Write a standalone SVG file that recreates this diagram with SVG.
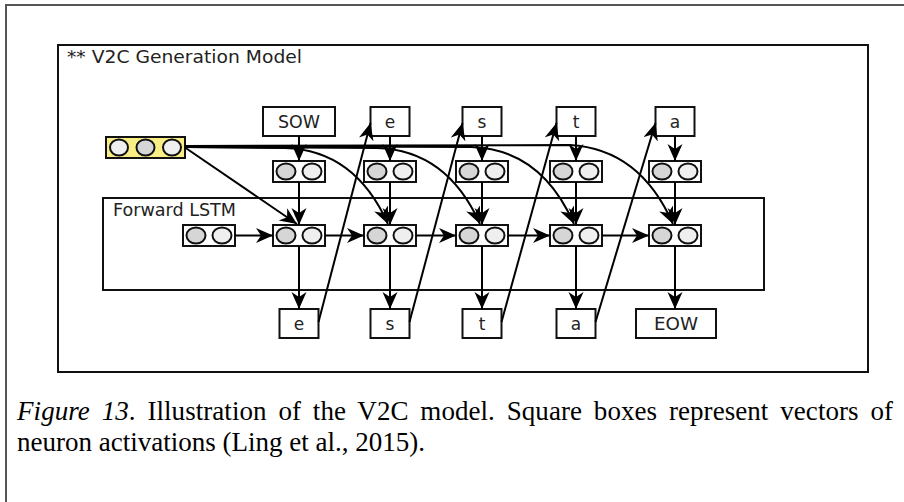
<svg xmlns="http://www.w3.org/2000/svg" width="904" height="502" viewBox="0 0 904 502">
  <style>
    .box { fill: #ffffff; stroke: #111111; stroke-width: 2; }
    .frame { fill: none; stroke: #111111; stroke-width: 2; }
    .lbl { font-family: "DejaVu Sans", "Liberation Sans", sans-serif; font-size: 17px; fill: #222222; }
    .mid { text-anchor: middle; }
    .dk { fill: #d6d6d6; stroke: #111111; stroke-width: 2; }
    .lt { fill: #efefef; stroke: #111111; stroke-width: 2; }
    .wire { fill: none; stroke: #000000; stroke-width: 2; marker-end: url(#head); }
    .cap { font-family: "Liberation Serif", "Times New Roman", serif; font-size: 27px; fill: #000000; }
  </style>
  <defs>
    <marker id="head" markerUnits="userSpaceOnUse" markerWidth="18" markerHeight="16" refX="17" refY="7.5" orient="auto">
      <path d="M0,0 L17,7.5 L0,15 L5,7.5 Z" fill="#000000"/>
    </marker>
    <g id="pair">
      <rect class="box" x="0" y="0" width="52" height="21"/>
      <ellipse class="dk" cx="13" cy="10.5" rx="9.5" ry="8"/>
      <ellipse class="lt" cx="39" cy="10.5" rx="9.5" ry="8"/>
    </g>
  </defs>

  <!-- page frame -->
  <path d="M6,502 V5 H904" fill="none" stroke="#555555" stroke-width="2"/>

  <!-- model frame -->
  <g id="model">
    <rect class="frame" x="58" y="45" width="810" height="327"/>
    <text class="lbl" x="67" y="63" font-size="18" textLength="235" lengthAdjust="spacingAndGlyphs">** V2C Generation Model</text>
  </g>

  <!-- LSTM frame -->
  <g id="lstm">
    <rect class="frame" x="103" y="198" width="661" height="92"/>
    <text class="lbl" x="113" y="216" textLength="123" lengthAdjust="spacingAndGlyphs">Forward LSTM</text>
  </g>

  <!-- input feature vector -->
  <g id="features">
    <rect x="106" y="137" width="79" height="21" fill="#f8ee85" stroke="#111111" stroke-width="2"/>
    <ellipse class="lt" cx="119" cy="147.5" rx="9" ry="8"/>
    <ellipse class="dk" cx="145.5" cy="147.5" rx="9" ry="8"/>
    <ellipse class="lt" cx="172" cy="147.5" rx="9" ry="8"/>
  </g>

  <!-- input tokens -->
  <g id="in-sow"><rect class="box" x="263" y="107" width="72" height="29"/><text class="lbl mid" x="299" y="128" textLength="42" lengthAdjust="spacingAndGlyphs">SOW</text></g>
  <g id="in-e"><rect class="box" x="370.5" y="107" width="39" height="29"/><text class="lbl mid" x="390" y="128">e</text></g>
  <g id="in-s"><rect class="box" x="462.5" y="107" width="39" height="29"/><text class="lbl mid" x="482" y="128">s</text></g>
  <g id="in-t"><rect class="box" x="556.5" y="107" width="39" height="29"/><text class="lbl mid" x="576" y="128">t</text></g>
  <g id="in-a"><rect class="box" x="655.5" y="107" width="39" height="29"/><text class="lbl mid" x="675" y="128">a</text></g>

  <!-- embeddings -->
  <g id="emb-1"><use href="#pair" x="273" y="161"/></g>
  <g id="emb-2"><use href="#pair" x="364" y="161"/></g>
  <g id="emb-3"><use href="#pair" x="456" y="161"/></g>
  <g id="emb-4"><use href="#pair" x="550" y="161"/></g>
  <g id="emb-5"><use href="#pair" x="649" y="161"/></g>

  <!-- recurrent cells -->
  <g id="h0"><use href="#pair" x="183" y="225"/></g>
  <g id="cell-1"><use href="#pair" x="273" y="225"/></g>
  <g id="cell-2"><use href="#pair" x="364" y="225"/></g>
  <g id="cell-3"><use href="#pair" x="456" y="225"/></g>
  <g id="cell-4"><use href="#pair" x="550" y="225"/></g>
  <g id="cell-5"><use href="#pair" x="649" y="225"/></g>

  <!-- output tokens -->
  <g id="out-e"><rect class="box" x="279.5" y="309" width="39" height="29"/><text class="lbl mid" x="299" y="330">e</text></g>
  <g id="out-s"><rect class="box" x="370.5" y="309" width="39" height="29"/><text class="lbl mid" x="390" y="330">s</text></g>
  <g id="out-t"><rect class="box" x="462.5" y="309" width="39" height="29"/><text class="lbl mid" x="482" y="330">t</text></g>
  <g id="out-a"><rect class="box" x="556.5" y="309" width="39" height="29"/><text class="lbl mid" x="576" y="330">a</text></g>
  <g id="out-eow"><rect class="box" x="636" y="309" width="80" height="29"/><text class="lbl mid" x="676" y="330" textLength="44" lengthAdjust="spacingAndGlyphs">EOW</text></g>

  <!-- connectors -->
  <g id="connectors">
    <!-- token to embedding -->
    <path class="wire" d="M299,136 V161"/>
    <path class="wire" d="M390,136 V161"/>
    <path class="wire" d="M482,136 V161"/>
    <path class="wire" d="M576,136 V161"/>
    <path class="wire" d="M675,136 V161"/>
    <!-- embedding to cell -->
    <path class="wire" d="M299,182 V225"/>
    <path class="wire" d="M390,182 V225"/>
    <path class="wire" d="M482,182 V225"/>
    <path class="wire" d="M576,182 V225"/>
    <path class="wire" d="M675,182 V225"/>
    <!-- cell to output -->
    <path class="wire" d="M299,246 V309"/>
    <path class="wire" d="M390,246 V309"/>
    <path class="wire" d="M482,246 V309"/>
    <path class="wire" d="M576,246 V309"/>
    <path class="wire" d="M675,246 V309"/>
    <!-- recurrence -->
    <path class="wire" d="M235,235.5 H273"/>
    <path class="wire" d="M325,235.5 H364"/>
    <path class="wire" d="M416,235.5 H456"/>
    <path class="wire" d="M508,235.5 H550"/>
    <path class="wire" d="M602,235.5 H649"/>
    <!-- output fed back as next input -->
    <path class="wire" d="M318.5,322 L370.5,123"/>
    <path class="wire" d="M409.5,322 L462.5,123"/>
    <path class="wire" d="M501.5,322 L556.5,123"/>
    <path class="wire" d="M595.5,322 L655.5,123"/>
    <!-- features to every cell -->
    <path class="wire" d="M185,147.5 L297,224"/>
    <path class="wire" d="M185,147 L285,148 Q355,150 388,224"/>
    <path class="wire" d="M185,147 L377,148 Q447,150 480,224"/>
    <path class="wire" d="M185,146 L471,147 Q541,149 574,224"/>
    <path class="wire" d="M185,146 L570,145 Q640,149 673,224"/>
  </g>

  <!-- caption -->
  <g id="caption">
    <text class="cap" x="17" y="420" word-spacing="5" textLength="876" lengthAdjust="spacing"><tspan font-style="italic">Figure 13</tspan>. Illustration of the V2C model. Square boxes represent vectors of</text>
    <text class="cap" x="17" y="451">neuron activations (Ling et al., 2015).</text>
  </g>
</svg>
